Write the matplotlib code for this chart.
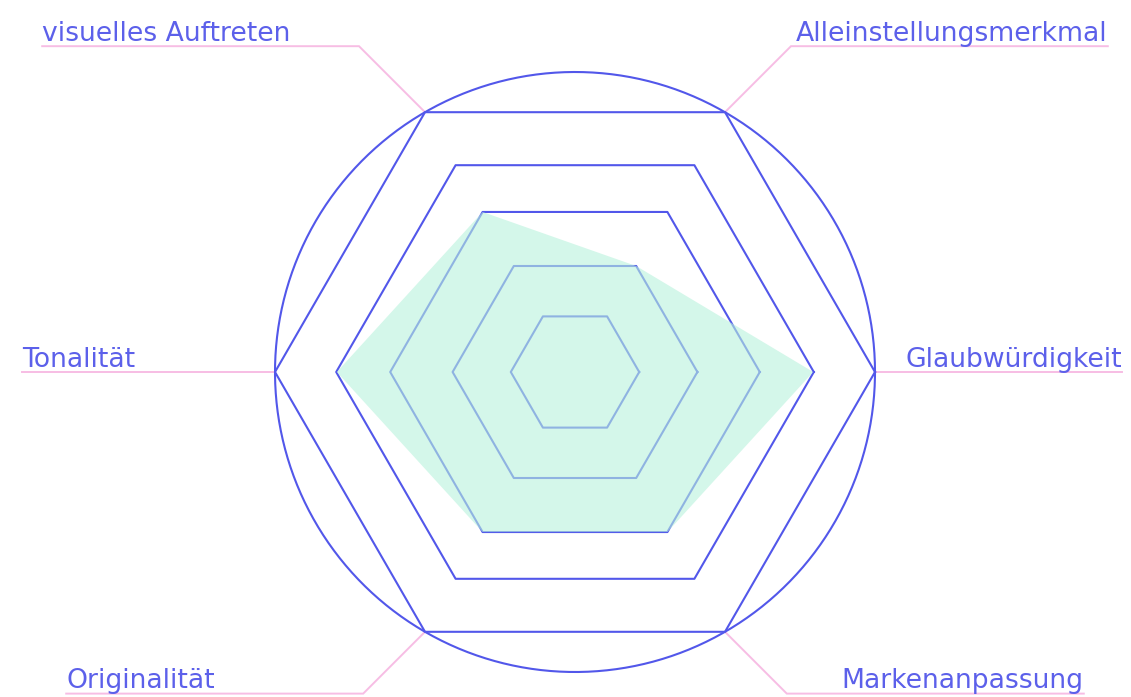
import matplotlib.pyplot as plt
import numpy as np

# axes, counter-clockwise from the right
labels = ['Glaubwürdigkeit', 'Alleinstellungsmerkmal', 'visuelles Auftreten',
          'Tonalität', 'Originalität', 'Markenanpassung']
scores = [3.97, 2.04, 3.08, 3.97, 3.08, 3.08]
ring_levels = [1.07, 2.04, 3.08, 3.98, 5.0]
max_level = 5.0

blue = '#5257ea'
text_blue = '#5c60ea'
pink = '#f7bde4'
mint = '#b8f2dc'

n = len(labels)
angles = np.deg2rad(np.arange(n) * 360 / n)

fig = plt.figure(figsize=(11.31, 6.97), dpi=100)
ax = fig.add_axes([0, 0, 1, 1])
# 60 px per unit, centre at (575, 372) px
ax.set_xlim(-575 / 60, (1131 - 575) / 60)
ax.set_ylim(-(697 - 372) / 60, 372 / 60)
ax.axis('off')

# outer circle
t = np.linspace(0, 2 * np.pi, 400)
ax.plot(max_level * np.cos(t), max_level * np.sin(t), color=blue, lw=1.5, zorder=2)

# hexagon rings
for r in ring_levels:
    xs = r * np.cos(np.append(angles, angles[0]))
    ys = r * np.sin(np.append(angles, angles[0]))
    ax.plot(xs, ys, color=blue, lw=1.5, zorder=2)

# score polygon drawn over the grid
sx = np.array(scores) * np.cos(angles)
sy = np.array(scores) * np.sin(angles)
ax.fill(sx, sy, color=mint, alpha=0.6, lw=0, zorder=3)

# leader lines and labels
diag = {1: 1.1, 2: 1.1, 4: 1.03, 5: 1.03}
horiz = {0: 4.12, 1: 5.28, 2: 5.28, 3: 4.22, 4: 4.95, 5: 4.95}
for i, lab in enumerate(labels):
    vx = max_level * np.cos(angles[i])
    vy = max_level * np.sin(angles[i])
    side = 1 if np.cos(angles[i]) > 0 else -1
    up = np.sign(np.round(np.sin(angles[i]), 6))
    d = diag.get(i, 0)
    cx = vx + side * d
    cy = vy + up * d
    ex = cx + side * horiz[i]
    ax.plot([vx, cx, ex], [cy if d == 0 else vy, cy, cy], color=pink, lw=1.4,
            zorder=1, solid_joinstyle='miter')
    ax.text(ex, cy + 0.09, lab, ha='left' if side < 0 else 'right', va='baseline',
            fontsize=19.2, color=text_blue, family='DejaVu Sans')

fig.savefig('out.png', dpi=100)
